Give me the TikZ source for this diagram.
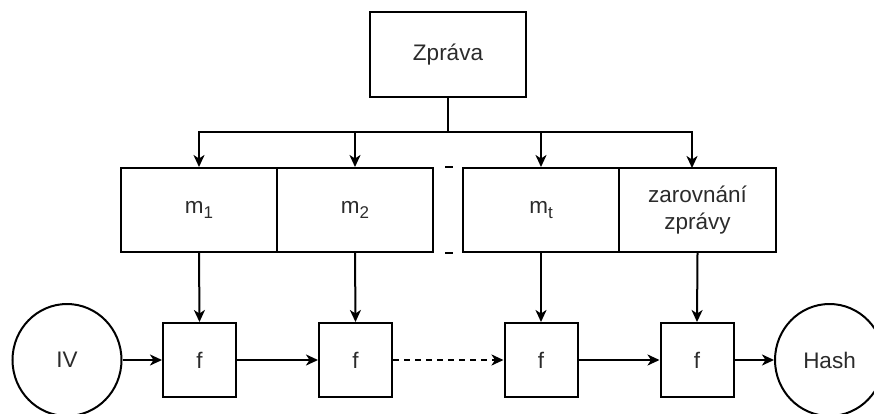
\documentclass[tikz,border=0pt]{standalone}
\usepackage{fontspec}
\setmainfont{Liberation Sans}
\usetikzlibrary{arrows.meta,shapes.geometric}
\definecolor{txt}{HTML}{2B2B2B}
\tikzset{
  base/.style={draw=black, line width=2pt, inner sep=0pt, text=txt, font=\fontsize{22.5}{27.5}\selectfont, align=center},
  box/.style={base, rectangle, minimum width=156pt, minimum height=84pt},
  fbox/.style={base, rectangle, minimum width=73pt, minimum height=74pt},
  ell/.style={base, ellipse, minimum width=109pt, minimum height=112pt},
  conn/.style={line width=2pt, -{Stealth[length=12pt,width=11pt,inset=3.5pt]}},
  plain/.style={line width=2pt},
}
\newcommand{\sbs}[1]{\raisebox{-0.45ex}{\fontsize{17}{17}\selectfont #1}}
\begin{document}
\begin{tikzpicture}[x=1pt,y=-1pt]
\useasboundingbox (0,0) rectangle (874,414);
\node[box, minimum width=156pt, minimum height=85pt] (zp) at (448,54.5) {Zpráva};
\node[box] (m1) at (199,210) {m\sbs{1}};
\node[box] (m2) at (355,210) {m\sbs{2}};
\node[box] (mt) at (541,210) {m\sbs{t}};
\node[box, minimum width=157pt] (zar) at (697.5,210) {zarovnání\\zprávy};
\node[fbox] (f1) at (199.5,360) {f};
\node[fbox] (f2) at (355.5,360) {f};
\node[fbox] (f3) at (541,360) {f};
\node[fbox] (f4) at (697,360) {f};
\node[ell] (iv) at (67,360) {IV};
\node[ell] (hash) at (829.5,360) {Hash};
\coordinate (bus) at (448,132);
\coordinate (zt) at (692,168);
\draw[plain] (zp.south) -- (bus);
\draw[conn] (bus) -| (m1.north);
\draw[conn] (bus) -| (m2.north);
\draw[conn] (bus) -| (mt.north);
\draw[conn] (bus) -| (zt);
\draw[plain, dash pattern=on 0pt off 11pt on 8pt off 30pt] (m2.north east) -- (mt.north west);
\draw[plain, dash pattern=on 0pt off 11pt on 8pt off 30pt] (m2.south east) -- (mt.south west);
\draw[conn] (m1.south) -- (f1.north);
\draw[conn] (m2.south) -- (f2.north);
\draw[conn] (mt.south) -- (f3.north);
\draw[conn] (zar.south) -- (f4.north);
\draw[conn] (iv) -- (f1);
\draw[conn] (f1) -- (f2);
\draw[conn, dash pattern=on 6pt off 5pt] (f2) -- (f3);
\draw[conn] (f3) -- (f4);
\draw[conn] (f4) -- (hash);
\end{tikzpicture}
\end{document}
